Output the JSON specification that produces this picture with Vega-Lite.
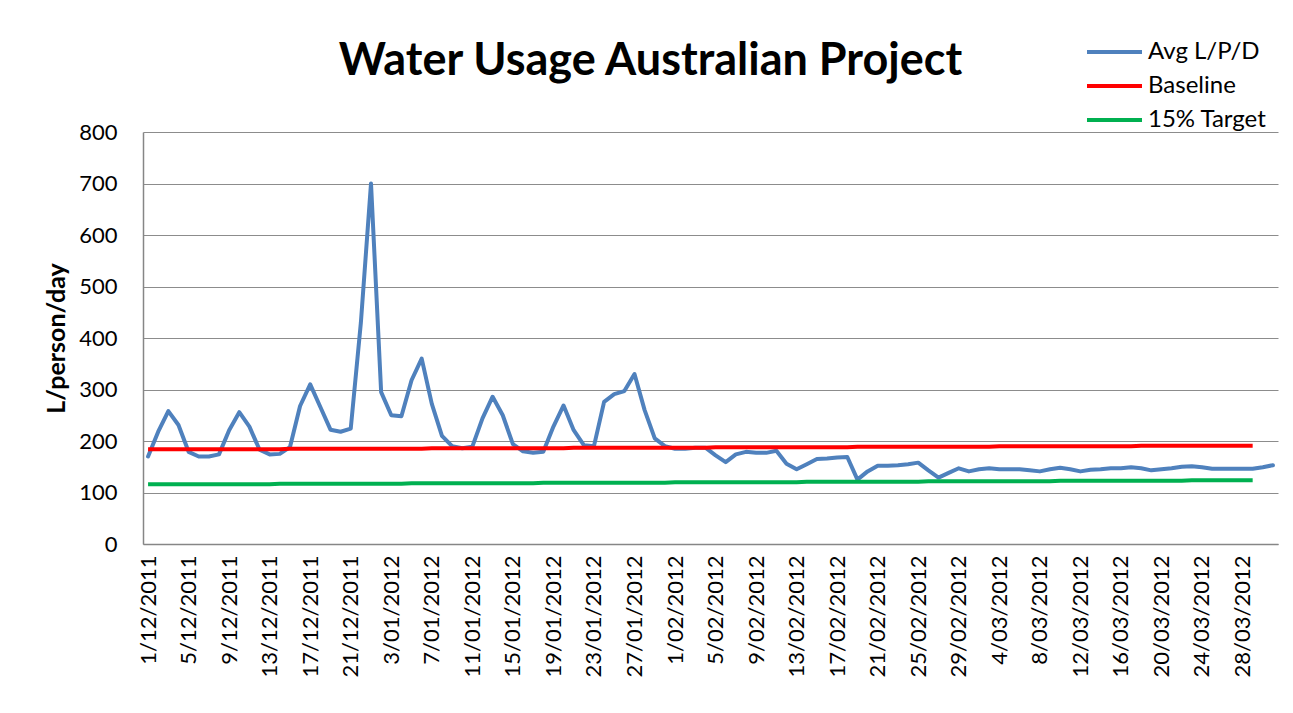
{
  "$schema": "https://vega.github.io/schema/vega-lite/v6.json",
  "autosize": {"type": "none"},
  "width": 1135,
  "height": 412,
  "padding": {"left": 143, "top": 132, "right": 15, "bottom": 169},
  "background": "white",
  "title": {
    "text": "Water Usage Australian Project",
    "font": "Lato",
    "fontSize": 45,
    "fontWeight": "bold",
    "color": "black",
    "anchor": "middle",
    "dx": -60,
    "offset": -44
  },
  "config": {
    "view": {"stroke": null},
    "font": "Lato",
    "axis": {
      "labelFont": "Lato",
      "labelFontSize": 22,
      "labelColor": "black",
      "domainColor": "#868686",
      "domainWidth": 1.5,
      "gridColor": "#8c8c8c",
      "gridWidth": 1,
      "ticks": false
    },
    "legend": {"labelFont": "Lato", "labelFontSize": 24, "labelColor": "black"}
  },
  "data": {"values": [
    {"d":"1/12/2011","avg":170,"base":184,"tgt":116},
    {"d":"2/12/2011","avg":218,"base":184,"tgt":116},
    {"d":"3/12/2011","avg":258,"base":184,"tgt":116},
    {"d":"4/12/2011","avg":231,"base":184,"tgt":116},
    {"d":"5/12/2011","avg":179,"base":184,"tgt":116},
    {"d":"6/12/2011","avg":170,"base":184,"tgt":116},
    {"d":"7/12/2011","avg":170,"base":184,"tgt":116},
    {"d":"8/12/2011","avg":174,"base":184,"tgt":116},
    {"d":"9/12/2011","avg":221,"base":184,"tgt":116},
    {"d":"10/12/2011","avg":256,"base":184,"tgt":116},
    {"d":"11/12/2011","avg":228,"base":184,"tgt":116},
    {"d":"12/12/2011","avg":183,"base":184,"tgt":116},
    {"d":"13/12/2011","avg":174,"base":184,"tgt":116},
    {"d":"14/12/2011","avg":175,"base":184,"tgt":117},
    {"d":"15/12/2011","avg":188,"base":185,"tgt":117},
    {"d":"16/12/2011","avg":268,"base":185,"tgt":117},
    {"d":"17/12/2011","avg":310,"base":185,"tgt":117},
    {"d":"18/12/2011","avg":266,"base":185,"tgt":117},
    {"d":"19/12/2011","avg":222,"base":185,"tgt":117},
    {"d":"20/12/2011","avg":218,"base":185,"tgt":117},
    {"d":"21/12/2011","avg":224,"base":185,"tgt":117},
    {"d":"22/12/2011","avg":430,"base":185,"tgt":117},
    {"d":"23/12/2011","avg":700,"base":185,"tgt":117},
    {"d":"2/01/2012","avg":295,"base":185,"tgt":117},
    {"d":"3/01/2012","avg":250,"base":185,"tgt":117},
    {"d":"4/01/2012","avg":248,"base":185,"tgt":117},
    {"d":"5/01/2012","avg":318,"base":185,"tgt":118},
    {"d":"6/01/2012","avg":360,"base":185,"tgt":118},
    {"d":"7/01/2012","avg":272,"base":186,"tgt":118},
    {"d":"8/01/2012","avg":210,"base":186,"tgt":118},
    {"d":"9/01/2012","avg":190,"base":186,"tgt":118},
    {"d":"10/01/2012","avg":186,"base":186,"tgt":118},
    {"d":"11/01/2012","avg":189,"base":186,"tgt":118},
    {"d":"12/01/2012","avg":244,"base":186,"tgt":118},
    {"d":"13/01/2012","avg":286,"base":186,"tgt":118},
    {"d":"14/01/2012","avg":250,"base":186,"tgt":118},
    {"d":"15/01/2012","avg":194,"base":186,"tgt":118},
    {"d":"16/01/2012","avg":180,"base":186,"tgt":118},
    {"d":"17/01/2012","avg":177,"base":186,"tgt":118},
    {"d":"18/01/2012","avg":179,"base":186,"tgt":119},
    {"d":"19/01/2012","avg":228,"base":186,"tgt":119},
    {"d":"20/01/2012","avg":269,"base":186,"tgt":119},
    {"d":"21/01/2012","avg":221,"base":187,"tgt":119},
    {"d":"22/01/2012","avg":192,"base":187,"tgt":119},
    {"d":"23/01/2012","avg":190,"base":187,"tgt":119},
    {"d":"24/01/2012","avg":276,"base":187,"tgt":119},
    {"d":"25/01/2012","avg":291,"base":187,"tgt":119},
    {"d":"26/01/2012","avg":297,"base":187,"tgt":119},
    {"d":"27/01/2012","avg":330,"base":187,"tgt":119},
    {"d":"28/01/2012","avg":260,"base":187,"tgt":119},
    {"d":"29/01/2012","avg":205,"base":187,"tgt":119},
    {"d":"30/01/2012","avg":190,"base":187,"tgt":119},
    {"d":"1/02/2012","avg":185,"base":187,"tgt":120},
    {"d":"2/02/2012","avg":185,"base":187,"tgt":120},
    {"d":"3/02/2012","avg":187,"base":187,"tgt":120},
    {"d":"4/02/2012","avg":187,"base":187,"tgt":120},
    {"d":"5/02/2012","avg":172,"base":188,"tgt":120},
    {"d":"6/02/2012","avg":159,"base":188,"tgt":120},
    {"d":"7/02/2012","avg":174,"base":188,"tgt":120},
    {"d":"8/02/2012","avg":179,"base":188,"tgt":120},
    {"d":"9/02/2012","avg":177,"base":188,"tgt":120},
    {"d":"10/02/2012","avg":177,"base":188,"tgt":120},
    {"d":"11/02/2012","avg":181,"base":188,"tgt":120},
    {"d":"12/02/2012","avg":156,"base":188,"tgt":120},
    {"d":"13/02/2012","avg":145,"base":188,"tgt":120},
    {"d":"14/02/2012","avg":155,"base":188,"tgt":121},
    {"d":"15/02/2012","avg":165,"base":188,"tgt":121},
    {"d":"16/02/2012","avg":166,"base":188,"tgt":121},
    {"d":"17/02/2012","avg":168,"base":188,"tgt":121},
    {"d":"18/02/2012","avg":169,"base":188,"tgt":121},
    {"d":"19/02/2012","avg":125,"base":189,"tgt":121},
    {"d":"20/02/2012","avg":141,"base":189,"tgt":121},
    {"d":"21/02/2012","avg":152,"base":189,"tgt":121},
    {"d":"22/02/2012","avg":152,"base":189,"tgt":121},
    {"d":"23/02/2012","avg":153,"base":189,"tgt":121},
    {"d":"24/02/2012","avg":155,"base":189,"tgt":121},
    {"d":"25/02/2012","avg":158,"base":189,"tgt":121},
    {"d":"26/02/2012","avg":143,"base":189,"tgt":122},
    {"d":"27/02/2012","avg":129,"base":189,"tgt":122},
    {"d":"28/02/2012","avg":138,"base":189,"tgt":122},
    {"d":"29/02/2012","avg":147,"base":189,"tgt":122},
    {"d":"1/03/2012","avg":141,"base":189,"tgt":122},
    {"d":"2/03/2012","avg":145,"base":189,"tgt":122},
    {"d":"3/03/2012","avg":147,"base":189,"tgt":122},
    {"d":"4/03/2012","avg":145,"base":190,"tgt":122},
    {"d":"5/03/2012","avg":145,"base":190,"tgt":122},
    {"d":"6/03/2012","avg":145,"base":190,"tgt":122},
    {"d":"7/03/2012","avg":143,"base":190,"tgt":122},
    {"d":"8/03/2012","avg":141,"base":190,"tgt":122},
    {"d":"9/03/2012","avg":145,"base":190,"tgt":122},
    {"d":"10/03/2012","avg":148,"base":190,"tgt":123},
    {"d":"11/03/2012","avg":145,"base":190,"tgt":123},
    {"d":"12/03/2012","avg":141,"base":190,"tgt":123},
    {"d":"13/03/2012","avg":144,"base":190,"tgt":123},
    {"d":"14/03/2012","avg":145,"base":190,"tgt":123},
    {"d":"15/03/2012","avg":147,"base":190,"tgt":123},
    {"d":"16/03/2012","avg":147,"base":190,"tgt":123},
    {"d":"17/03/2012","avg":149,"base":190,"tgt":123},
    {"d":"18/03/2012","avg":147,"base":191,"tgt":123},
    {"d":"19/03/2012","avg":143,"base":191,"tgt":123},
    {"d":"20/03/2012","avg":145,"base":191,"tgt":123},
    {"d":"21/03/2012","avg":147,"base":191,"tgt":123},
    {"d":"22/03/2012","avg":150,"base":191,"tgt":123},
    {"d":"23/03/2012","avg":151,"base":191,"tgt":124},
    {"d":"24/03/2012","avg":149,"base":191,"tgt":124},
    {"d":"25/03/2012","avg":146,"base":191,"tgt":124},
    {"d":"26/03/2012","avg":146,"base":191,"tgt":124},
    {"d":"27/03/2012","avg":146,"base":191,"tgt":124},
    {"d":"28/03/2012","avg":146,"base":191,"tgt":124},
    {"d":"29/03/2012","avg":146,"base":191,"tgt":124},
    {"d":"30/03/2012","avg":149,"base":null,"tgt":null},
    {"d":"31/03/2012","avg":153,"base":null,"tgt":null}
  ]},
  "encoding": {
    "x": {
      "field": "d",
      "type": "ordinal",
      "sort": null,
      "title": null,
      "axis": {
        "labelAngle": 270,
        "labelPadding": 11,
        "grid": false,
        "values": ["1/12/2011","5/12/2011","9/12/2011","13/12/2011","17/12/2011","21/12/2011","3/01/2012","7/01/2012","11/01/2012","15/01/2012","19/01/2012","23/01/2012","27/01/2012","1/02/2012","5/02/2012","9/02/2012","13/02/2012","17/02/2012","21/02/2012","25/02/2012","29/02/2012","4/03/2012","8/03/2012","12/03/2012","16/03/2012","20/03/2012","24/03/2012","28/03/2012"]
      }
    }
  },
  "layer": [
    {
      "mark": {"type": "line", "strokeWidth": 4, "strokeJoin": "round", "strokeCap": "round"},
      "encoding": {
        "y": {
          "field": "avg",
          "type": "quantitative",
          "scale": {"domain": [0, 800]},
          "title": "L/person/day",
          "axis": {
            "values": [0, 100, 200, 300, 400, 500, 600, 700, 800],
            "grid": true,
            "labelPadding": 26,
            "titleFont": "Lato",
            "titleFontSize": 25,
            "titleFontWeight": "bold",
            "titleColor": "black",
            "titlePadding": 9
          }
        },
        "color": {
          "datum": "Avg L/P/D",
          "type": "nominal",
          "scale": {"domain": ["Avg L/P/D", "Baseline", "15% Target"], "range": ["#4F81BD", "#FF0000", "#00B050"]},
          "legend": {
            "title": null,
            "orient": "none",
            "legendX": 942,
            "legendY": -92,
            "symbolType": "stroke",
            "symbolSize": 3025,
            "symbolStrokeWidth": 4,
            "labelOffset": 4,
            "clipHeight": 24,
            "rowPadding": 10
          }
        }
      }
    },
    {
      "mark": {"type": "line", "strokeWidth": 4, "strokeCap": "butt"},
      "encoding": {
        "y": {"field": "base", "type": "quantitative"},
        "color": {"datum": "Baseline", "type": "nominal"}
      }
    },
    {
      "mark": {"type": "line", "strokeWidth": 4, "strokeCap": "butt"},
      "encoding": {
        "y": {"field": "tgt", "type": "quantitative"},
        "color": {"datum": "15% Target", "type": "nominal"}
      }
    }
  ]
}
